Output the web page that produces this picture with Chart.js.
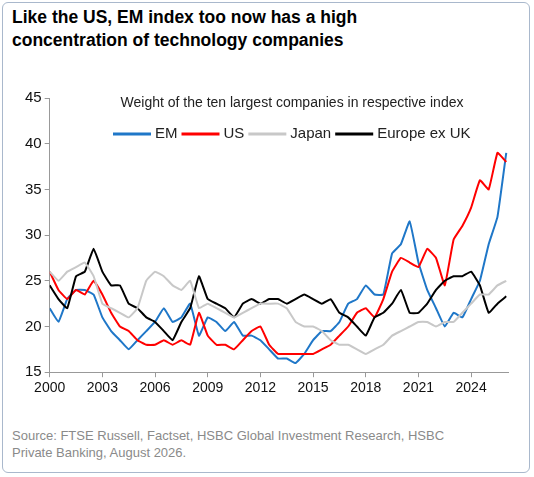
<!DOCTYPE html>
<html>
<head>
<meta charset="utf-8">
<script src="https://cdn.jsdelivr.net/npm/chart.js@4"></script>
<style>
  body { margin: 0; background: #fff; font-family: Arial, "Liberation Sans", sans-serif; }
  .frame { position: absolute; left: 2px; top: 2px; width: 528px; height: 471px; border: 1px solid #a9b8cc; border-radius: 6px; box-sizing: border-box; }
  h1 { position: absolute; left: 12px; top: 6px; margin: 0; font-size: 17.5px; line-height: 23px; font-weight: bold; color: #000; }
  .wrap { position: absolute; left: 0; top: 86px; width: 530px; height: 314px; }
  .src { position: absolute; left: 12px; top: 427px; font-size: 13px; line-height: 17px; color: #8a8a8a; }
</style>
</head>
<body>
<div class="frame"></div>
<h1>Like the US, EM index too now has a high<br>concentration of technology companies</h1>
<div class="wrap"><canvas id="c"></canvas></div>
<div class="src">Source: FTSE Russell, Factset, HSBC Global Investment Research, HSBC<br>Private Banking, August 2026.</div>
<script>
const years = [2000,2000.5,2001,2001.5,2002,2002.5,2003,2003.5,2004,2004.5,2005,2005.5,2006,2006.5,2007,2007.5,2008,2008.5,2009,2009.5,2010,2010.5,2011,2011.5,2012,2012.5,2013,2013.5,2014,2014.5,2015,2015.5,2016,2016.5,2017,2017.5,2018,2018.5,2019,2019.5,2020,2020.5,2021,2021.5,2022,2022.5,2023,2023.5,2024,2024.5,2025,2025.5,2026];
const em = [22,20.5,23,24,24,23.5,21,19.5,18.5,17.5,18.5,19.5,20.5,22,20.5,21,22.5,19,21,20.5,19.5,20.5,19,19,18.5,17.5,16.5,16.5,16,17,18.5,19.5,19.5,20.5,22.5,23,24.5,23.5,23.5,28,29,31.5,27,24,22,20,21.5,21,23,25,29,32,39];
const us = [26,24,23,24,23.5,25,23.5,21.5,20,19.5,18.5,18,18,18.5,18,18.5,18,21.5,19,18,18,17.5,18.5,19.5,20,18,17,17,17,17,17,17.5,18,19,20,21.5,22,21,23,26,27.5,27,26.5,28.5,27.5,24.5,29.5,31,33,36,35,39,38];
const japan = [26,25,26,26.5,27,25.5,22.5,22,21.5,21,22,25,26,25.5,24.5,24,25,22,22.5,22,21.5,21,21.5,22,22.5,22.5,22.5,22,20.5,20,20,19.5,18.5,18,18,17.5,17,17.5,18,19,19.5,20,20.5,20.5,20,20.5,20.5,21.5,22.5,23.5,23.5,24.5,25];
const europe = [24.5,23,22,25.5,26,28.5,26,24.5,24.5,22.5,22,21,20.5,19.5,18.5,20.5,22,25.5,23,22.5,22,21,22.5,23,22.5,23,23,22.5,23,23.5,23,22.5,23,21.5,21,20,19,21,21.5,22.5,24,21.5,21.5,22.5,24,25,25.5,25.5,26,24.5,21.5,22.5,23.3];
const xTicks = [2000,2003,2006,2009,2012,2015,2018,2021,2024];
const yTicks = [15,20,25,30,35,40,45];
const chartTitle = 'Weight of the ten largest companies in respective index';

const pts = v => v.map((y, i) => ({ x: years[i], y }));
const series = [
  { label: 'Japan', data: pts(japan), borderColor: '#c8c8c8' },
  { label: 'Europe ex UK', data: pts(europe), borderColor: '#000000' },
  { label: 'US', data: pts(us), borderColor: '#ff0000' },
  { label: 'EM', data: pts(em), borderColor: '#1f77c8' }
];
const legendOrder = ['EM', 'US', 'Japan', 'Europe ex UK'];

const overlay = {
  id: 'overlay',
  afterDraw(chart) {
    const ctx = chart.ctx, a = chart.chartArea;
    ctx.save();
    ctx.fillStyle = '#222';
    ctx.font = '14px Arial, "Liberation Sans", sans-serif';
    ctx.textAlign = 'center'; ctx.textBaseline = 'middle';
    ctx.fillText(chartTitle, 292, a.top + 5);
    ctx.font = '15px Arial, "Liberation Sans", sans-serif';
    const items = legendOrder.map(n => chart.data.datasets.find(d => d.label === n));
    const lw = 38, gap = 4, sp = 4;
    let x = 113;
    const y = a.top + 36;
    ctx.textAlign = 'left';
    items.forEach(d => {
      ctx.strokeStyle = d.borderColor; ctx.lineWidth = 3;
      ctx.beginPath(); ctx.moveTo(x, y); ctx.lineTo(x + lw, y); ctx.stroke();
      x += lw + gap;
      ctx.fillText(d.label, x, y);
      x += ctx.measureText(d.label).width + sp;
    });
    ctx.restore();
  }
};

new Chart(document.getElementById('c'), {
  type: 'line',
  data: { datasets: series.map(s => ({ ...s, borderWidth: 2, pointRadius: 0, tension: 0.1, fill: false })) },
  options: {
    responsive: true,
    maintainAspectRatio: false,
    animation: false,
    layout: { padding: { left: 22, right: 22, top: 2, bottom: 0 } },
    plugins: { legend: { display: false }, tooltip: { enabled: false } },
    scales: {
      x: {
        type: 'linear', min: 2000, max: 2026.1,
        afterBuildTicks: ax => { ax.ticks = xTicks.map(v => ({ value: v })); },
        grid: { drawOnChartArea: false, drawTicks: true, tickLength: 5, color: '#999' },
        border: { color: '#999' },
        ticks: { color: '#111', font: { size: 14, family: 'Arial' }, maxRotation: 0, autoSkip: false, callback: v => String(v) }
      },
      y: {
        min: 15, max: 45,
        afterBuildTicks: ax => { ax.ticks = yTicks.map(v => ({ value: v })); },
        grid: { drawOnChartArea: false, tickLength: 5, color: '#999' },
        border: { color: '#999' },
        ticks: { color: '#111', font: { size: 15, family: 'Arial' } }
      }
    }
  },
  plugins: [overlay]
});
</script>
</body>
</html>
